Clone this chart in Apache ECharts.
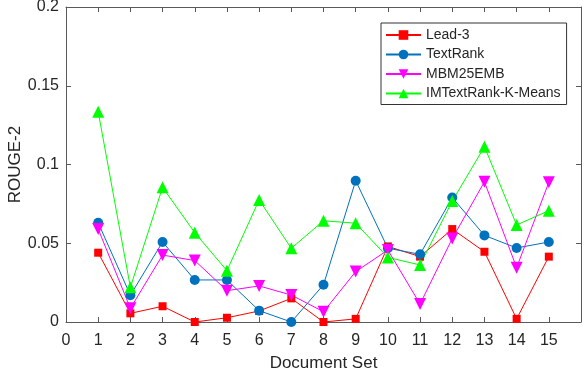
<!DOCTYPE html>
<html>
<head>
<meta charset="utf-8">
<script src="https://cdn.jsdelivr.net/npm/echarts@6/dist/echarts.min.js"></script>
<style>html,body{margin:0;padding:0;background:#fff;}#c{width:584px;height:370px;}</style>
</head>
<body>
<div id="c"></div>
<script>
const docSets = [1,2,3,4,5,6,7,8,9,10,11,12,13,14,15];
const lead3 = [0.044,0.0055,0.010,0.0,0.0027,0.007,0.015,0.0,0.002,0.048,0.0415,0.059,0.0446,0.002,0.0415];
const textRank = [0.063,0.017,0.0508,0.0267,0.0267,0.0072,0.0,0.0237,0.0897,0.0468,0.043,0.079,0.055,0.047,0.0508];
const mbm25emb = [0.059,0.0087,0.0425,0.039,0.0199,0.0229,0.0171,0.0065,0.032,0.0457,0.0114,0.053,0.089,0.0345,0.0887];
const imTextRank = [0.1335,0.022,0.0855,0.0567,0.0326,0.0775,0.0468,0.0643,0.0627,0.041,0.0362,0.0768,0.1113,0.0616,0.0707];
const seriesNames = ['Lead-3','TextRank','MBM25EMB','IMTextRank-K-Means'];

const pair = arr => docSets.map((x,i)=>[x,arr[i]]);
const font = 'Liberation Sans, Arial, sans-serif';
const axisCol = '#5a5a5a';
const txtCol = '#262626';
const tickCommon = {show:true, inside:true, length:5, lineStyle:{color:axisCol}};

const chart = echarts.init(document.getElementById('c'), null, {renderer:'canvas'});
chart.setOption({
  animation:false,
  backgroundColor:'#fff',
  grid:{left:66, right:3, top:7, bottom:48, containLabel:false, outerBoundsMode:'none'},
  legend:{
    orient:'vertical', left:381, top:23,
    backgroundColor:'#fff', borderColor:'#333', borderWidth:1,
    padding:[5,6,4,4], itemGap:5.5, itemWidth:35, itemHeight:12,
    textStyle:{fontFamily:font, fontSize:14, color:txtCol, lineHeight:14},
    data:seriesNames
  },
  xAxis:[{
    type:'value', min:0, max:16, interval:1,
    name:'Document Set', nameLocation:'middle', nameGap:33, nameMoveOverlap:false,
    nameTextStyle:{fontFamily:font, fontSize:17, color:txtCol},
    axisLine:{show:true, onZero:false, lineStyle:{color:axisCol}},
    axisTick:tickCommon,
    axisLabel:{fontFamily:font, fontSize:16, color:txtCol, margin:11, showMaxLabel:false,
      formatter:v => v===16 ? '' : String(v)},
    splitLine:{show:false}
  },{
    type:'value', position:'top', min:0, max:16, interval:1,
    axisLine:{show:true, onZero:false, lineStyle:{color:axisCol}},
    axisTick:tickCommon, axisLabel:{show:false}, splitLine:{show:false}
  }],
  yAxis:[{
    type:'value', min:0, max:0.2, interval:0.05,
    name:'ROUGE-2', nameLocation:'middle', nameGap:42, nameRotate:90, nameMoveOverlap:false,
    nameTextStyle:{fontFamily:font, fontSize:17, color:txtCol},
    axisLine:{show:true, onZero:false, lineStyle:{color:axisCol}},
    axisTick:tickCommon,
    axisLabel:{fontFamily:font, fontSize:16, color:txtCol, margin:7},
    splitLine:{show:false}
  },{
    type:'value', position:'right', min:0, max:0.2, interval:0.05,
    axisLine:{show:true, onZero:false, lineStyle:{color:axisCol}},
    axisTick:tickCommon, axisLabel:{show:false}, splitLine:{show:false}
  }],
  series:[
    {name:seriesNames[0], type:'line', data:pair(lead3), symbol:'rect', symbolSize:8,
     lineStyle:{width:1, color:'#ff0000'}, itemStyle:{color:'#ff0000'}},
    {name:seriesNames[1], type:'line', data:pair(textRank), symbol:'circle', symbolSize:10,
     lineStyle:{width:1, color:'#0072bd'}, itemStyle:{color:'#0072bd'}},
    {name:seriesNames[2], type:'line', data:pair(mbm25emb), symbol:'triangle', symbolSize:12, symbolRotate:180,
     lineStyle:{width:1, color:'#ff00ff'}, itemStyle:{color:'#ff00ff'}},
    {name:seriesNames[3], type:'line', data:pair(imTextRank), symbol:'triangle', symbolSize:12,
     lineStyle:{width:1, color:'#00ff00'}, itemStyle:{color:'#00ff00'}}
  ]
});
</script>
</body>
</html>
